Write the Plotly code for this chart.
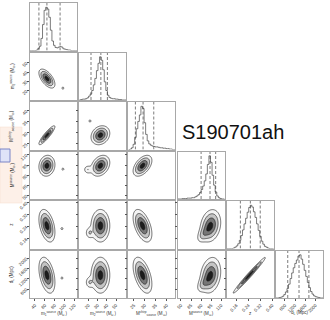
import numpy as np
import plotly.graph_objects as go

# ---------------- data ----------------
var_titles = [
    "m<sub>1</sub><sup>source</sup> (M<sub>⊙</sub>)",
    "m<sub>2</sub><sup>source</sup> (M<sub>⊙</sub>)",
    "M<sup>chirp</sup><sub>source</sub> (M<sub>⊙</sub>)",
    "M<sup>source</sup> (M<sub>⊙</sub>)",
    "z",
    "d<sub>L</sub> (Mpc)",
]
axis_lo = [30.0, 10.0, 22.5, 45.0, 0.095, 450.0]
axis_hi = [125.0, 61.0, 44.0, 115.0, 0.41, 2300.0]
tick_vals = [
    [40, 60, 80, 100, 120],
    [20, 30, 40, 50],
    [25, 30, 35, 40],
    [50, 65, 80, 95, 110],
    [0.16, 0.24, 0.32, 0.40],
    [800, 1200, 1600, 2000],
]
tick_text = [
    ["40", "60", "80", "100", "120"],
    ["20", "30", "40", "50"],
    ["25", "30", "35", "40"],
    ["50", "65", "80", "95", "110"],
    ["0.16", "0.24", "0.32", "0.40"],
    ["800", "1200", "1600", "2000"],
]

# 1D histogram counts (30 equal bins spanning each axis range)
hist_m1 = [0, 0, 0, 0, 1, 5, 10, 28, 60, 93, 100, 96, 77, 47, 22, 12, 7, 6, 8, 9, 8, 4, 3, 2, 1, 1, 0, 0, 0, 0]
hist_m2 = [0, 1, 2, 2, 3, 5, 9, 14, 22, 35, 50, 68, 85, 100, 92, 70, 42, 22, 11, 6, 4, 3, 3, 2, 2, 1, 1, 0, 0, 0]
hist_mc = [0, 1, 4, 12, 28, 48, 65, 80, 100, 95, 62, 35, 20, 13, 10, 8, 7, 6, 6, 5, 4, 4, 3, 3, 2, 2, 1, 1, 0, 0]
hist_mt = [0, 0, 0, 1, 1, 1, 2, 2, 2, 3, 3, 5, 7, 10, 15, 22, 30, 42, 58, 80, 100, 85, 55, 32, 16, 7, 3, 1, 0, 0]
hist_z = [0, 0, 0, 0, 1, 3, 6, 11, 19, 30, 43, 57, 70, 84, 95, 100, 96, 85, 72, 57, 42, 28, 17, 10, 5, 3, 1, 0, 0, 0]
hist_dl = [0, 0, 1, 2, 4, 8, 14, 22, 32, 45, 58, 70, 80, 88, 97, 100, 90, 78, 64, 50, 36, 24, 15, 9, 5, 3, 2, 1, 0, 0]
hists = [hist_m1, hist_m2, hist_mc, hist_mt, hist_z, hist_dl]

# quantile (dashed) lines
quant_m1 = [48.0, 64.2, 90.8]
quant_m2 = [22.8, 33.5, 40.6]
quant_mc = [25.7, 29.2, 34.1]
quant_mt = [80.0, 93.3, 101.7]
quant_z = [0.186, 0.253, 0.319]
quant_dl = [912.0, 1356.0, 1745.0]
quants = [quant_m1, quant_m2, quant_mc, quant_mt, quant_z, quant_dl]

# 2D posterior summaries: centres and spreads of each parameter
post_center = [64.2, 33.0, 28.95, 94.0, 0.246, 1338.0]
post_spread = [8.1, 5.1, 2.15, 7.7, 0.054, 350.0]
# correlation for each (row, col) pair
pair_row = [1, 2, 2, 3, 3, 3, 4, 4, 4, 4, 5, 5, 5, 5, 5]
pair_col = [0, 0, 1, 0, 1, 2, 0, 1, 2, 3, 0, 1, 2, 3, 4]
pair_rho = [-0.6, 0.9, 0.2, 0.1, 0.3, 0.5, -0.4, 0.0, -0.5, 0.2, -0.4, 0.0, -0.5, 0.2, 0.985]
# secondary posterior components: row, col, x, y, sx, sy, rho, weight
extra_row = [1, 2, 3, 4, 5, 3, 4, 5, 4, 5]
extra_col = [0, 1, 0, 0, 0, 1, 1, 1, 3, 3]
extra_x = [96.5, 21.7, 96.5, 94.6, 94.6, 19.2, 21.2, 21.2, 83.5, 83.5]
extra_y = [22.75, 35.4, 89.0, 0.227, 1227.0, 88.4, 0.199, 1060.0, 0.19, 1005.0]
extra_sx = [2.1, 1.1, 2.1, 2.1, 2.1, 2.5, 2.6, 2.6, 5.6, 5.6]
extra_sy = [1.1, 0.5, 1.5, 0.007, 40.0, 3.5, 0.022, 130.0, 0.0315, 185.0]
extra_rho = [0, 0, 0, 0, 0, 0, 0, 0, 0.5, 0.5]
extra_w = [0.22, 0.22, 0.22, 0.22, 0.22, 0.3, 0.3, 0.3, 0.35, 0.35]

event_name = "S190701ah"

# ---------------- layout geometry ----------------
W, H = 330, 320
ML, MR, MT, MB = 30, 7, 3, 22
PW, PH = W - ML - MR, H - MT - MB
col_left = [30 + 49.2 * j for j in range(6)]
row_top = [3 + 49.5 * i for i in range(6)]
PANEL_W, PANEL_H = 47, 47.5


def px_x(v):
    return (v - ML) / PW


def px_y(v):
    return 1 - (v - MT) / PH


def xdom(j):
    L = col_left[j]
    return [px_x(L), min(1.0, px_x(L + PANEL_W))]


def ydom(i):
    T = row_top[i]
    return [max(0.0, px_y(T + PANEL_H)), px_y(T)]


fig = go.Figure()
layout = {}
tick_font = dict(family="Liberation Sans, Arial", size=4.5, color="#333")
title_font = dict(family="Liberation Sans, Arial", size=4.5, color="#333")
frame = dict(showline=True, mirror=True, linecolor="#a8a8a8", linewidth=1,
             showgrid=False, zeroline=False, ticks="outside", ticklen=2,
             tickcolor="#555", tickwidth=0.6, tickfont=tick_font, tickangle=-45)

n = 0
pidx = {}
for i in range(6):
    for j in range(i + 1):
        n += 1
        pidx[(i, j)] = n
        xa = "xaxis" if n == 1 else f"xaxis{n}"
        ya = "yaxis" if n == 1 else f"yaxis{n}"
        xref = "x" if n == 1 else f"x{n}"
        yref = "y" if n == 1 else f"y{n}"
        xd = dict(frame, domain=xdom(j), anchor=yref, range=[axis_lo[j], axis_hi[j]],
                  tickvals=tick_vals[j], ticktext=tick_text[j], showticklabels=(i == 5))
        if i == j:
            yd = dict(frame, domain=ydom(i), anchor=xref, range=[0, 1.1 * max(hists[i])],
                      showticklabels=False, ticks="")
        else:
            yd = dict(frame, domain=ydom(i), anchor=xref, range=[axis_lo[i], axis_hi[i]],
                      tickvals=tick_vals[i], ticktext=tick_text[i], showticklabels=(j == 0))
        layout[xa] = xd
        layout[ya] = yd

# ---------------- histograms ----------------
for k in range(6):
    counts = hists[k]
    nb = len(counts)
    edges = np.linspace(axis_lo[k], axis_hi[k], nb + 1)
    xs = [edges[0]] + list(edges[:-1]) + [edges[-1], edges[-1]]
    ys = [0] + list(counts) + [counts[-1], 0]
    n = pidx[(k, k)]
    xr = "x" if n == 1 else f"x{n}"
    yr = "y" if n == 1 else f"y{n}"
    fig.add_trace(go.Scatter(x=xs, y=ys, mode="lines", line=dict(color="#444444", width=0.7, shape="hv"),
                             xaxis=xr, yaxis=yr, hoverinfo="skip", showlegend=False))
    top = 1.1 * max(counts)
    for q in quants[k]:
        fig.add_trace(go.Scatter(x=[q, q], y=[0, top], mode="lines",
                                 line=dict(color="#444444", width=0.7, dash="3px,2px"),
                                 xaxis=xr, yaxis=yr, hoverinfo="skip", showlegend=False))

# ---------------- 2D contours ----------------
NG = 80
for p in range(len(pair_row)):
    i, j, rho = pair_row[p], pair_col[p], pair_rho[p]
    gx = np.linspace(axis_lo[j], axis_hi[j], NG)
    gy = np.linspace(axis_lo[i], axis_hi[i], NG)
    X, Y = np.meshgrid(gx, gy)
    u = (X - post_center[j]) / post_spread[j]
    v = (Y - post_center[i]) / post_spread[i]
    dens = np.exp(-0.5 * (u * u - 2 * rho * u * v + v * v) / (1 - rho * rho))
    for b in range(len(extra_row)):
        if extra_row[b] == i and extra_col[b] == j:
            bu = (X - extra_x[b]) / extra_sx[b]
            bv = (Y - extra_y[b]) / extra_sy[b]
            br = extra_rho[b]
            dens = dens + extra_w[b] * np.exp(-0.5 * (bu * bu - 2 * br * bu * bv + bv * bv) / (1 - br * br))
    dens = dens / dens.max()
    zt = -np.sqrt(np.clip(-2 * np.log(np.clip(dens, 1e-12, 1)), 0, 12.25))
    n = pidx[(i, j)]
    fig.add_trace(go.Contour(
        x=gx, y=gy, z=zt, autocontour=False,
        contours=dict(start=-2.0, end=-0.5, size=0.5, coloring="fill", showlines=True),
        line=dict(color="#111111", width=0.6, smoothing=1),
        colorscale=[[0, "#ffffff"], [0.25, "#f4f4f4"], [0.5, "#c4c4c4"], [0.75, "#767676"], [1, "#1c1c1c"]],
        showscale=False, hoverinfo="skip", xaxis=f"x{n}", yaxis=f"y{n}"))

# ---------------- overlay boxes on the left edge ----------------
shapes = [
    dict(type="rect", xref="paper", yref="paper", x0=px_x(0), x1=px_x(22), y0=px_y(203), y1=px_y(127),
         fillcolor="#fdf0e8", line=dict(color="#f7dccd", width=0.5), layer="below"),
    dict(type="rect", xref="paper", yref="paper", x0=px_x(0), x1=px_x(10), y0=px_y(162), y1=px_y(149),
         fillcolor="#dfe3f8", line=dict(color="#7a84c6", width=1), layer="below"),
]

annotations = [
    dict(text=event_name, xref="paper", yref="paper", x=px_x(180), y=px_y(132), xanchor="left",
         yanchor="middle", showarrow=False, font=dict(family="Liberation Sans, Arial", size=20, color="#111")),
]
# axis titles (bottom row and left column)
for j in range(6):
    cx = col_left[j] + PANEL_W / 2
    annotations.append(dict(text=var_titles[j], xref="paper", yref="paper", x=px_x(cx), y=px_y(313),
                            xanchor="center", yanchor="middle", showarrow=False, font=title_font))
for i in range(1, 6):
    cy = row_top[i] + PANEL_H / 2
    annotations.append(dict(text=var_titles[i], xref="paper", yref="paper", x=px_x(12), y=px_y(cy),
                            xanchor="center", yanchor="middle", textangle=-90, showarrow=False,
                            font=title_font))

fig.update_layout(
    width=W, height=H, margin=dict(l=ML, r=MR, t=MT, b=MB, pad=0),
    paper_bgcolor="white", plot_bgcolor="white", showlegend=False,
    shapes=shapes, annotations=annotations, **layout)

fig.write_html("out.html", config={"displayModeBar": False},
               post_script="document.body.style.margin='0px';")
